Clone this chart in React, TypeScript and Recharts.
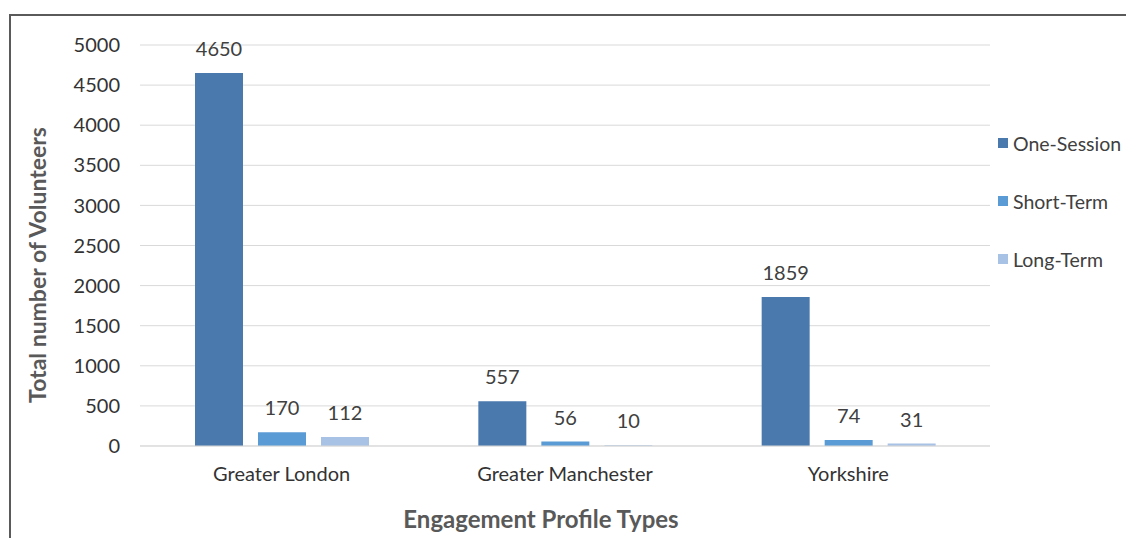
import { BarChart, Bar, XAxis, YAxis, CartesianGrid, LabelList } from 'recharts'

const regions = ['Greater London', 'Greater Manchester', 'Yorkshire']
const oneSession = [4650, 557, 1859]
const shortTerm = [170, 56, 74]
const longTerm = [112, 10, 31]
const yTicks = [0, 500, 1000, 1500, 2000, 2500, 3000, 3500, 4000, 4500, 5000]

const seriesNames = ['One-Session', 'Short-Term', 'Long-Term']
const colors = ['#4a79ae', '#5b9bd5', '#a7c2e4']

const data = regions.map((r, i) => ({
  region: r,
  oneSession: oneSession[i],
  shortTerm: shortTerm[i],
  longTerm: longTerm[i],
}))

const font = 'Lato, "Liberation Sans", sans-serif'

function LegendBox() {
  return (
    <div style={{ fontFamily: font, fontSize: 19.5, color: '#404040' }}>
      {seriesNames.map((n, i) => (
        <div key={n} style={{ display: 'flex', alignItems: 'center', height: 58 }}>
          <span style={{ width: 10, height: 10, background: colors[i], marginRight: 5, display: 'inline-block' }} />
          <span>{n}</span>
        </div>
      ))}
    </div>
  )
}

export default function App() {
  return (
    <div style={{ position: 'absolute', left: 0, top: 0, width: 1126, height: 538, background: '#fff', overflow: 'hidden' }}>
      <div style={{ position: 'absolute', left: 9, top: 14, width: 1117, height: 540, borderLeft: '2px solid #5a5a5a', borderTop: '2px solid #5a5a5a' }} />
      <div style={{ position: 'absolute', left: 0, top: 0 }}>
        <BarChart
          width={1126}
          height={538}
          data={data}
          margin={{ top: 45, right: 136, bottom: 0, left: 0 }}
          barCategoryGap="19%"
          barGap={15}
        >
          <CartesianGrid vertical={false} stroke="#d9d9d9" />
          <XAxis
            dataKey="region"
            height={92}
            axisLine={{ stroke: '#d9d9d9' }}
            tickLine={false}
            tickMargin={15}
            tick={{ fill: '#333', fontSize: 20, fontFamily: font }}
            label={{
              content: () => (
                <text x={541} y={528} textAnchor="middle" fill="#595959" fontSize={24} fontWeight="bold" fontFamily={font}>
                  Engagement Profile Types
                </text>
              ),
            }}
          />
          <YAxis
            width={140}
            domain={[0, 5000]}
            ticks={yTicks}
            axisLine={false}
            tickLine={false}
            tickMargin={14}
            tick={{ fill: '#333', fontSize: 20, fontFamily: font }}
            label={{
              content: () => (
                <text x={46} y={265} transform="rotate(-90 46 265)" textAnchor="middle" fill="#595959" fontSize={23} fontWeight="bold" fontFamily={font}>
                  Total number of Volunteers
                </text>
              ),
            }}
          />
          <Bar dataKey="oneSession" name={seriesNames[0]} fill={colors[0]} barSize={48} isAnimationActive={false}>
            <LabelList dataKey="oneSession" position="top" offset={17} fill="#404040" fontSize={20} fontFamily={font} />
          </Bar>
          <Bar dataKey="shortTerm" name={seriesNames[1]} fill={colors[1]} barSize={48} isAnimationActive={false}>
            <LabelList dataKey="shortTerm" position="top" offset={17} fill="#404040" fontSize={20} fontFamily={font} />
          </Bar>
          <Bar dataKey="longTerm" name={seriesNames[2]} fill={colors[2]} barSize={48} isAnimationActive={false}>
            <LabelList dataKey="longTerm" position="top" offset={17} fill="#404040" fontSize={20} fontFamily={font} />
          </Bar>
        </BarChart>
      </div>
      <div style={{ position: 'absolute', left: 998, top: 114, width: 128 }}>
        <LegendBox />
      </div>
    </div>
  )
}
